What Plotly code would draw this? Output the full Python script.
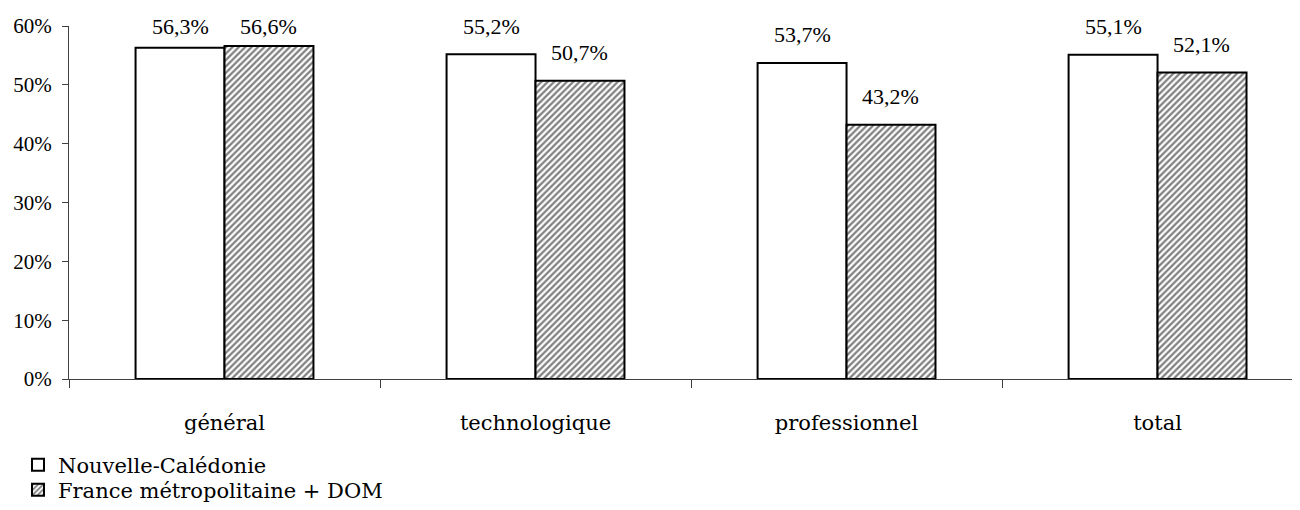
import plotly.graph_objects as go

categories = ["général", "technologique", "professionnel", "total"]
series_names = ["Nouvelle-Calédonie", "France métropolitaine + DOM"]
nc_values = [56.3, 55.2, 53.7, 55.1]
fr_values = [56.6, 50.7, 43.2, 52.1]
y_ticks = [0, 10, 20, 30, 40, 50, 60]

def fmt(v):
    return f"{v:.1f}".replace(".", ",") + "%"

serif_lbl = "DejaVu Serif, serif"
serif_num = "Liberation Serif, Times New Roman, serif"

W, H = 1292, 502  # page body has an 8px margin
Y_MAX = 60

fig = go.Figure()
fig.add_trace(go.Bar(
    name=series_names[0], x=categories, y=nc_values, legend="legend",
    marker=dict(color="white", line=dict(color="black", width=2)),
))
fig.add_trace(go.Bar(
    name=series_names[1], x=categories, y=fr_values, legend="legend2",
    marker=dict(color="white", line=dict(color="black", width=2),
                pattern=dict(shape="/", fgcolor="black", bgcolor="white",
                             size=4.5, solidity=0.5)),
))

# data labels sit above bars, but never above the top of the value axis
annotations = []
for vals, shift in ((nc_values, -44), (fr_values, 44)):
    for c, v in zip(categories, vals):
        annotations.append(dict(
            x=c, y=min(v + 4.8, Y_MAX - 0.1), xref="x", yref="y", text=fmt(v),
            showarrow=False, xshift=shift, yanchor="middle",
            font=dict(family=serif_num, size=22, color="black"),
        ))

leg_common = dict(
    xref="container", yref="container", xanchor="left", yanchor="middle",
    orientation="v", font=dict(family=serif_lbl, size=21, color="black"),
    itemwidth=30, bgcolor="rgba(0,0,0,0)", borderwidth=0,
)

fig.update_layout(
    width=W, height=H,
    margin=dict(l=61, r=0, t=18, b=131, autoexpand=False),
    plot_bgcolor="white", paper_bgcolor="white",
    barmode="group", bargap=0.428, bargroupgap=0,
    annotations=annotations,
    showlegend=True,
    legend=dict(x=10 / W, y=1 - (465 - 8) / H, **leg_common),
    legend2=dict(x=10 / W, y=1 - (490 - 8) / H, **leg_common),
    xaxis=dict(
        range=[-0.5, 3.458], showgrid=False, showline=True,
        linecolor="#404040", linewidth=1,
        ticks="outside", ticklen=8, tickcolor="#404040", tickson="boundaries",
        tickfont=dict(family=serif_lbl, size=21, color="black"),
        ticklabelstandoff=25,
    ),
    yaxis=dict(
        range=[0, Y_MAX], tickvals=y_ticks,
        ticktext=[f"{t}%" for t in y_ticks],
        showgrid=False, zeroline=False, showline=True,
        linecolor="#404040", linewidth=1,
        ticks="outside", ticklen=6, tickcolor="#404040",
        tickfont=dict(family=serif_num, size=21, color="black"),
        ticklabelstandoff=6,
    ),
)

fig.write_html("out.html")
